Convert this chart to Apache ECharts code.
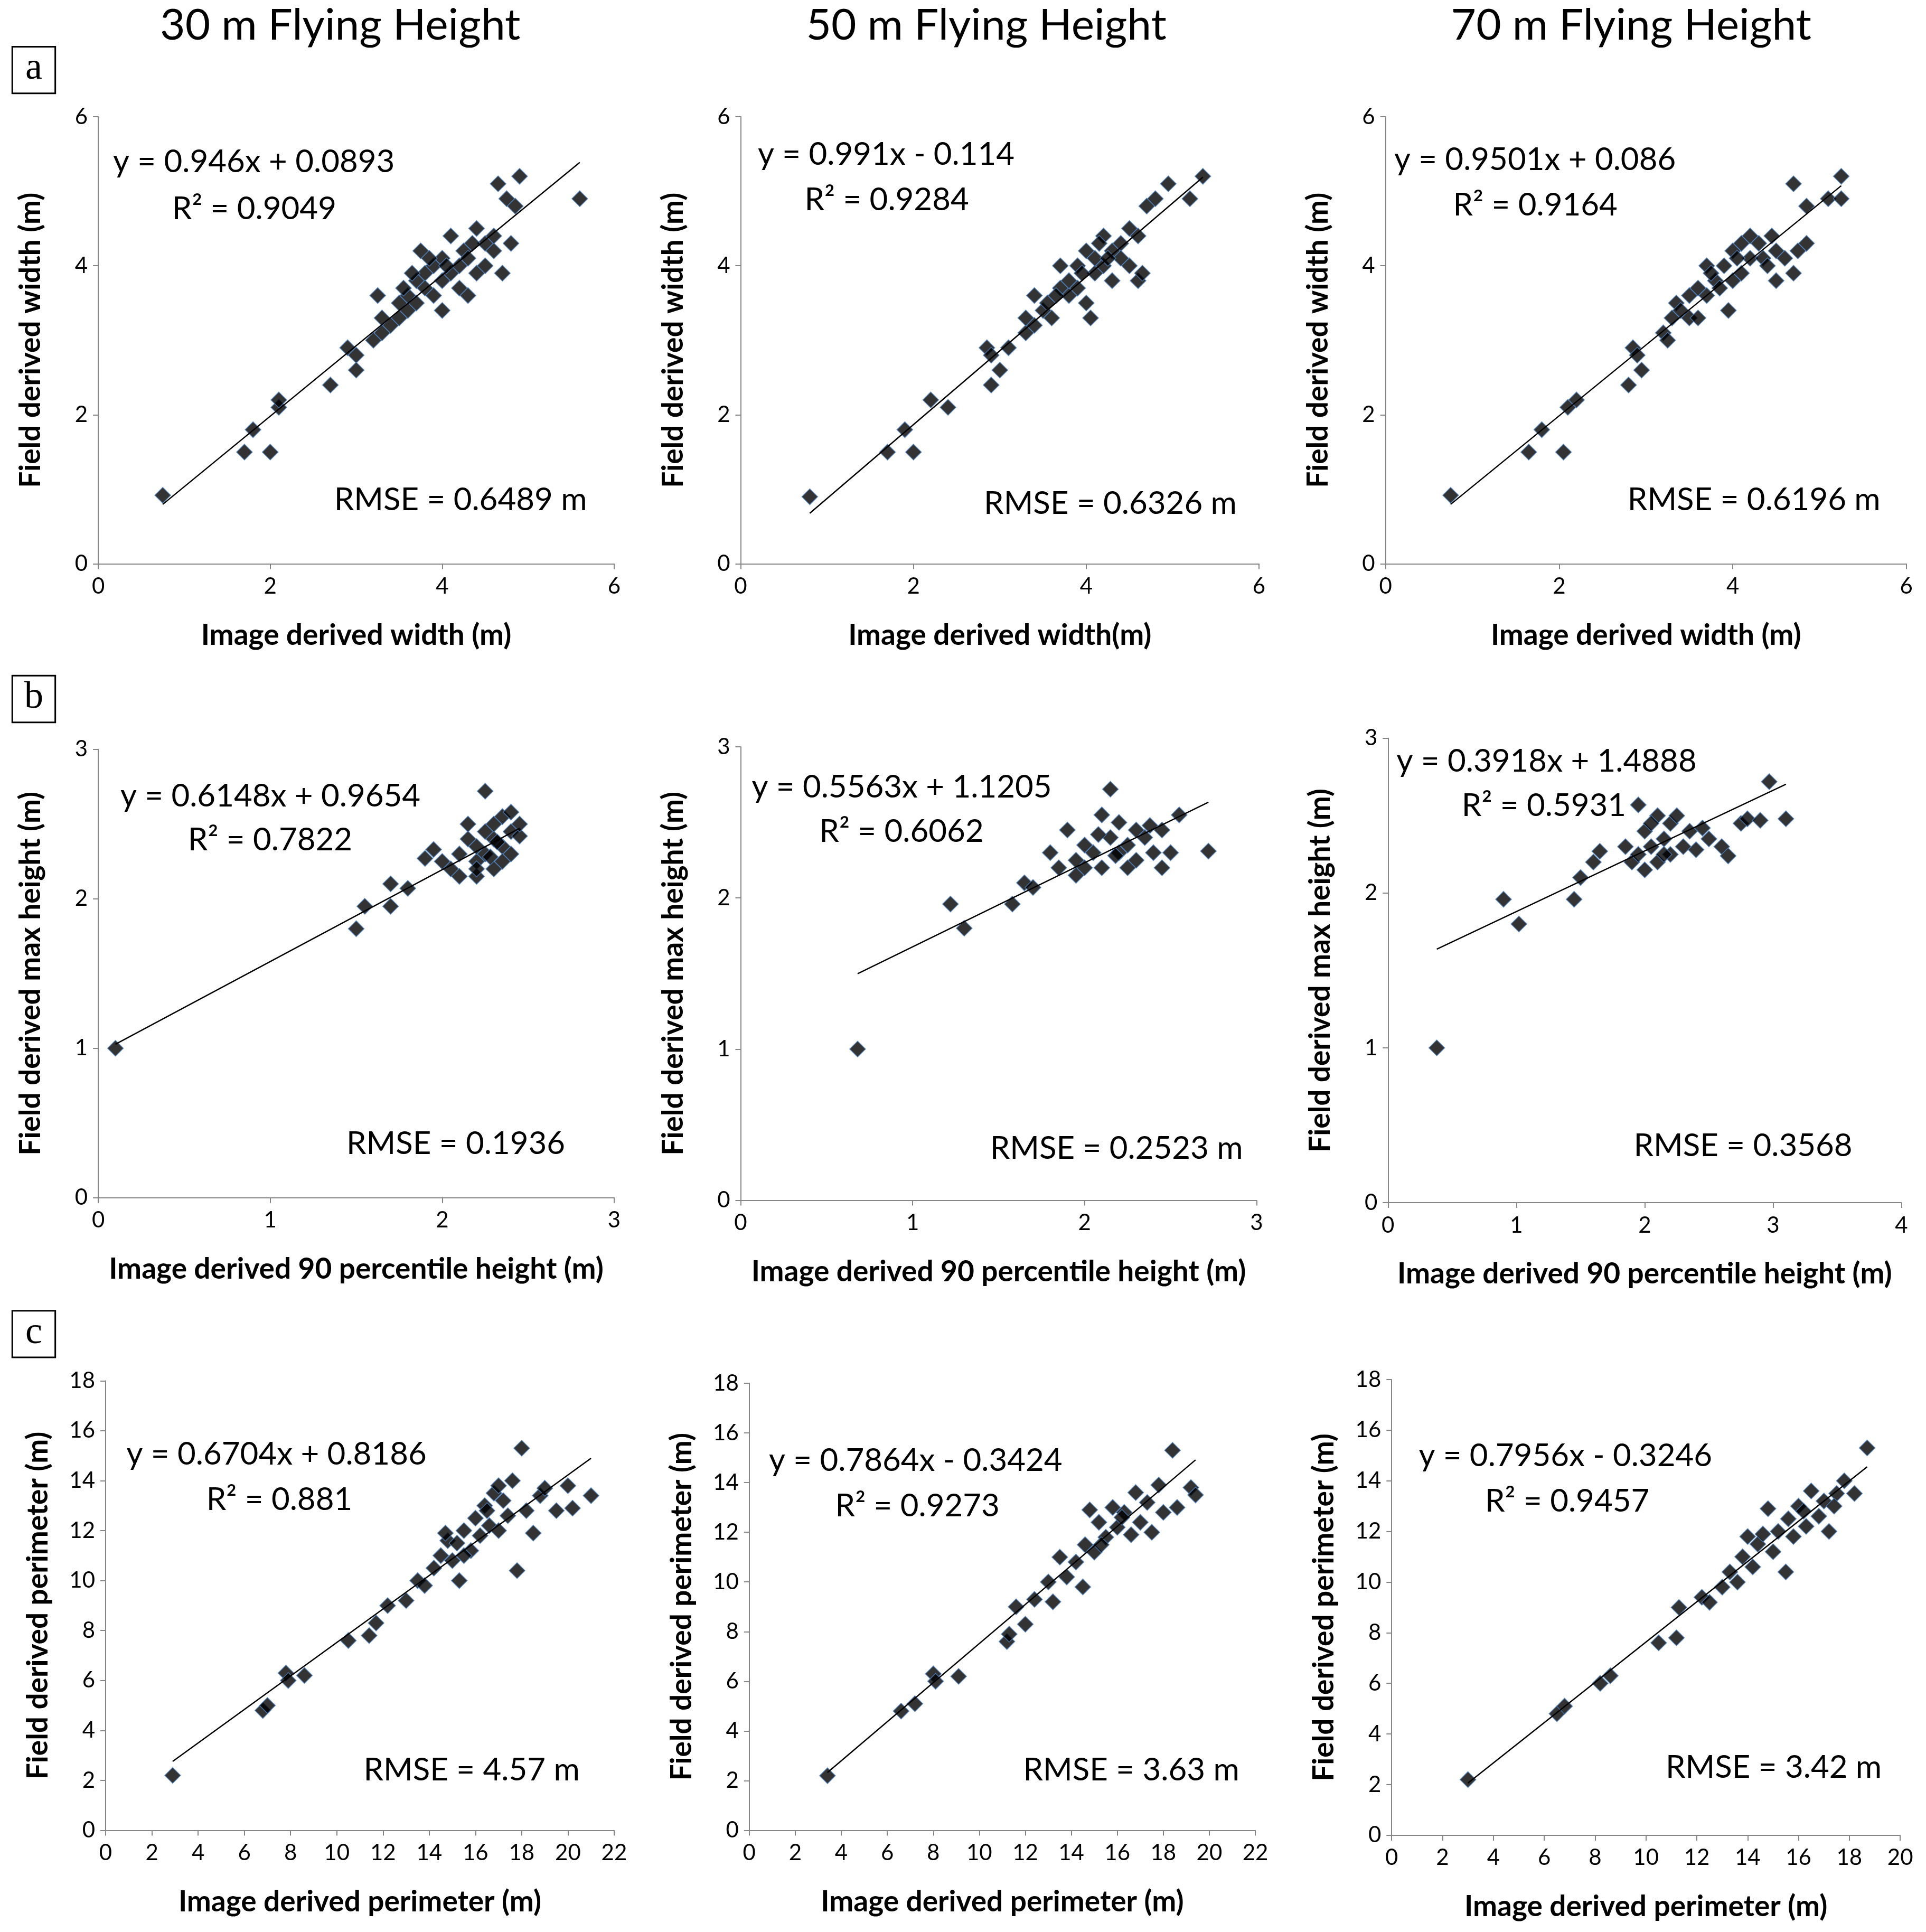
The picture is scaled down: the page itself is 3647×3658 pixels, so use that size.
<!DOCTYPE html>
<html><head><meta charset="utf-8">
<script src="https://cdn.jsdelivr.net/npm/echarts@6/dist/echarts.min.js"></script>
<style>html,body{margin:0;padding:0;background:#fff}#c{width:3647px;height:3658px}</style>
</head><body><div id="c"></div>
<script>
const colTitles = ["30 m Flying Height","50 m Flying Height","70 m Flying Height"];
const rowLetters = ["a","b","c"];
const xNames = ["Image derived width (m)","Image derived width(m)","Image derived width (m)",
"Image derived 90 percentile height (m)","Image derived 90 percentile height (m)","Image derived 90 percentile height (m)",
"Image derived perimeter (m)","Image derived perimeter (m)","Image derived perimeter (m)"];
const yNames = ["Field derived width (m)","Field derived width (m)","Field derived width (m)",
"Field derived max height (m)","Field derived max height (m)","Field derived max height (m)",
"Field derived perimeter (m)","Field derived perimeter (m)","Field derived perimeter (m)"];
const eqs = ["y = 0.946x + 0.0893","y = 0.991x - 0.114","y = 0.9501x + 0.086",
"y = 0.6148x + 0.9654","y = 0.5563x + 1.1205","y = 0.3918x + 1.4888",
"y = 0.6704x + 0.8186","y = 0.7864x - 0.3424","y = 0.7956x - 0.3246"];
const slopes = [0.946,0.991,0.9501,0.6148,0.5563,0.3918,0.6704,0.7864,0.7956];
const intercepts = [0.0893,-0.114,0.086,0.9654,1.1205,1.4888,0.8186,-0.3424,-0.3246];
const r2s = ["R² = 0.9049","R² = 0.9284","R² = 0.9164","R² = 0.7822","R² = 0.6062","R² = 0.5931","R² = 0.881","R² = 0.9273","R² = 0.9457"];
const rmses = ["RMSE = 0.6489 m","RMSE = 0.6326 m","RMSE = 0.6196 m","RMSE = 0.1936","RMSE = 0.2523 m","RMSE = 0.3568","RMSE = 4.57 m","RMSE = 3.63 m","RMSE = 3.42 m"];
const xMax = [6,6,6,3,3,4,22,22,20];
const yMax = [6,6,6,3,3,3,18,18,18];
const xInt = [2,2,2,1,1,1,2,2,2];
const yInt = [2,2,2,1,1,1,2,2,2];

const a1 = [[0.75,0.92],[1.7,1.5],[1.8,1.8],[2.0,1.5],[2.1,2.1],[2.1,2.2],[2.7,2.4],[2.9,2.9],[3.0,2.8],[3.0,2.6],[3.2,3.0],[3.25,3.6],[3.3,3.1],[3.3,3.3],[3.4,3.2],[3.5,3.3],[3.5,3.5],[3.6,3.6],[3.6,3.4],[3.7,3.8],[3.7,3.5],[3.75,4.2],[3.8,3.9],[3.8,3.7],[3.9,3.6],[3.9,4.0],[4.0,3.8],[4.0,4.1],[4.0,3.4],[4.1,4.4],[4.1,3.9],[4.2,3.7],[4.2,4.0],[4.25,4.2],[4.3,3.6],[4.3,4.1],[4.4,4.5],[4.4,3.9],[4.5,4.3],[4.5,4.0],[4.6,4.2],[4.6,4.4],[4.65,5.1],[4.7,3.9],[4.75,4.9],[4.8,4.3],[4.85,4.8],[4.9,5.2],[5.6,4.9],[3.55,3.7],[3.65,3.9],[4.05,4.0],[4.35,4.3],[3.85,4.1]];
const a2 = [[0.8,0.9],[1.7,1.5],[1.9,1.8],[2.0,1.5],[2.2,2.2],[2.4,2.1],[2.85,2.9],[2.9,2.8],[2.9,2.4],[3.0,2.6],[3.1,2.9],[3.3,3.1],[3.3,3.3],[3.4,3.6],[3.4,3.2],[3.5,3.4],[3.55,3.5],[3.6,3.3],[3.7,3.7],[3.7,4.0],[3.8,3.6],[3.8,3.8],[3.9,3.7],[3.9,4.0],[4.0,3.5],[4.0,4.2],[4.05,3.3],[4.1,3.9],[4.1,4.1],[4.2,4.4],[4.2,4.0],[4.3,4.2],[4.3,3.8],[4.4,4.3],[4.4,4.1],[4.5,4.0],[4.5,4.5],[4.6,3.8],[4.6,4.4],[4.65,3.9],[4.7,4.8],[4.8,4.9],[4.95,5.1],[5.2,4.9],[5.35,5.2],[3.65,3.6],[3.95,3.9],[4.25,4.1],[4.15,4.3]];
const a3 = [[0.75,0.92],[1.65,1.5],[1.8,1.8],[2.05,1.5],[2.1,2.1],[2.2,2.2],[2.8,2.4],[2.85,2.9],[2.9,2.8],[2.95,2.6],[3.2,3.1],[3.25,3.0],[3.3,3.3],[3.35,3.5],[3.4,3.4],[3.5,3.6],[3.5,3.3],[3.6,3.7],[3.6,3.3],[3.7,4.0],[3.7,3.6],[3.8,3.8],[3.85,3.7],[3.9,4.0],[3.95,3.4],[4.0,4.2],[4.0,3.8],[4.1,4.3],[4.1,3.9],[4.2,4.4],[4.2,4.1],[4.3,4.3],[4.35,4.1],[4.4,4.0],[4.45,4.4],[4.5,3.8],[4.5,4.2],[4.6,4.1],[4.7,3.9],[4.7,5.1],[4.75,4.2],[4.85,4.8],[4.85,4.3],[5.1,4.9],[5.25,4.9],[5.25,5.2],[3.75,3.9],[4.05,4.1]];
const b1 = [[0.1,1.0],[1.5,1.8],[1.55,1.95],[1.7,2.1],[1.7,1.95],[1.8,2.07],[1.9,2.27],[1.95,2.33],[2.0,2.25],[2.05,2.2],[2.1,2.3],[2.1,2.15],[2.15,2.4],[2.15,2.5],[2.2,2.25],[2.2,2.35],[2.2,2.15],[2.25,2.72],[2.25,2.45],[2.25,2.3],[2.3,2.4],[2.3,2.2],[2.3,2.5],[2.35,2.35],[2.35,2.25],[2.35,2.55],[2.4,2.45],[2.4,2.3],[2.4,2.58],[2.45,2.42],[2.45,2.5],[2.2,2.2],[2.28,2.28],[2.32,2.38]];
const b2 = [[0.68,1.0],[1.22,1.96],[1.3,1.8],[1.58,1.96],[1.65,2.1],[1.7,2.07],[1.8,2.3],[1.85,2.2],[1.9,2.45],[1.95,2.25],[1.95,2.15],[2.0,2.35],[2.0,2.2],[2.05,2.3],[2.1,2.55],[2.1,2.2],[2.15,2.72],[2.15,2.4],[2.2,2.3],[2.2,2.5],[2.25,2.35],[2.25,2.2],[2.3,2.45],[2.3,2.25],[2.35,2.4],[2.4,2.3],[2.45,2.45],[2.45,2.2],[2.5,2.3],[2.55,2.55],[2.72,2.31],[2.08,2.42],[2.18,2.28],[2.38,2.48]];
const b3 = [[0.38,1.0],[0.9,1.96],[1.02,1.8],[1.45,1.96],[1.5,2.1],[1.6,2.2],[1.65,2.27],[1.85,2.3],[1.9,2.2],[1.95,2.57],[1.95,2.25],[2.0,2.4],[2.0,2.15],[2.05,2.3],[2.1,2.5],[2.1,2.2],[2.15,2.35],[2.2,2.45],[2.2,2.25],[2.25,2.5],[2.3,2.3],[2.35,2.4],[2.4,2.28],[2.5,2.35],[2.6,2.3],[2.65,2.24],[2.75,2.45],[2.8,2.48],[2.9,2.47],[2.97,2.72],[3.1,2.48],[2.05,2.45],[2.15,2.25],[2.45,2.42]];
const c1 = [[2.9,2.2],[6.8,4.8],[7.0,5.0],[7.8,6.3],[7.9,6.0],[8.6,6.2],[10.5,7.6],[11.4,7.8],[11.7,8.3],[12.2,9.0],[13.0,9.2],[13.5,10.0],[13.8,9.8],[14.2,10.5],[14.5,11.0],[14.8,11.6],[15.0,10.8],[15.2,11.5],[15.3,10.0],[15.5,12.0],[15.8,11.2],[16.0,12.5],[16.2,11.8],[16.4,13.0],[16.6,12.2],[16.8,13.5],[17.0,12.0],[17.2,13.2],[17.4,12.6],[17.6,14.0],[17.8,10.4],[18.0,15.3],[18.2,12.8],[18.5,11.9],[18.8,13.4],[19.0,13.7],[19.5,12.8],[20.0,13.8],[20.2,12.9],[21.0,13.4],[16.5,12.8],[17.0,13.8],[14.7,11.9],[15.5,11.0]];
const c2 = [[3.4,2.2],[6.6,4.8],[7.2,5.1],[8.0,6.3],[8.1,6.0],[9.1,6.2],[11.2,7.6],[11.3,7.9],[11.6,9.0],[12.0,8.3],[12.4,9.3],[13.0,10.0],[13.2,9.2],[13.5,11.0],[13.8,10.2],[14.2,10.8],[14.5,9.8],[14.6,11.5],[14.8,12.9],[15.0,11.2],[15.2,12.4],[15.5,11.8],[15.8,13.0],[16.0,12.2],[16.3,12.8],[16.6,11.9],[16.8,13.6],[17.0,12.4],[17.3,13.2],[17.5,12.0],[17.8,13.9],[18.0,12.8],[18.4,15.3],[18.6,13.0],[19.2,13.8],[19.4,13.5],[15.3,11.5],[16.2,12.6]];
const c3 = [[3.0,2.2],[6.5,4.8],[6.8,5.1],[8.2,6.0],[8.6,6.3],[10.5,7.6],[11.2,7.8],[11.3,9.0],[12.2,9.4],[12.5,9.2],[13.0,9.8],[13.3,10.4],[13.6,10.0],[13.8,11.0],[14.0,11.8],[14.2,10.6],[14.4,11.5],[14.8,12.9],[15.0,11.2],[15.2,12.0],[15.5,10.4],[15.6,12.5],[15.8,11.8],[16.0,13.0],[16.3,12.2],[16.5,13.6],[16.8,12.6],[17.0,13.2],[17.2,12.0],[17.5,13.5],[17.8,14.0],[18.2,13.5],[18.7,15.3],[14.6,11.9],[16.2,12.8],[17.4,13.0]];
const allData = [a1,a2,a3,b1,b2,b3,c1,c2,c3];

const S = 3647/1568;
const FONT = "Lato, 'Open Sans', sans-serif";
const boxes = [[80,95,500,459],[603,95,1025,459],[1128,95,1552,459],
[80,610,500,975],[603,608,1023,977],[1130,601,1548,979],
[86,1124,500,1490],[610,1126,1022,1490],[1133,1123,1547,1494]];
const txtPos = [
[[92,132],[140,170],[272,407]],[[617,126],[655,163],[801,410]],[[1135,130],[1183,167],[1325,407]],
[[98,648],[153,684],[282,931]],[[612,641],[667,677],[806,935]],[[1137,620],[1190,656],[1330,933]],
[[103,1184],[168,1221],[296,1441]],[[626,1189],[680,1226],[833,1441]],[[1155,1185],[1209,1222],[1356,1439]]];
const titleX = [277,803,1328];
const letterY = [38,550,1067];

const grid=[],xAxis=[],yAxis=[],series=[],graphic=[];
for(let i=0;i<9;i++){
  const b=boxes[i];
  grid.push({left:b[0]*S,top:b[1]*S,width:(b[2]-b[0])*S,height:(b[3]-b[1])*S});
  const ax = (max,int,name,isY)=>({type:'value',gridIndex:i,min:0,max:max,interval:int,
    name:name,nameLocation:'middle',nameGap:isY?100:108,
    nameTextStyle:{fontFamily:FONT,fontWeight:'bold',fontSize:55,color:'#000'},
    axisLine:{show:true,lineStyle:{color:'#868686',width:2}},
    axisTick:{show:true,length:10,lineStyle:{color:'#868686',width:2}},
    axisLabel:{fontFamily:FONT,fontSize:42,color:'#000',margin:isY?20:22},
    splitLine:{show:false}});
  xAxis.push(ax(xMax[i],xInt[i],xNames[i],false));
  yAxis.push(ax(yMax[i],yInt[i],yNames[i],true));
  const d=allData[i];
  const xs=d.map(p=>p[0]);
  const x0=Math.min(...xs), x1=Math.max(...xs);
  series.push({type:'line',xAxisIndex:i,yAxisIndex:i,showSymbol:false,silent:true,
    data:[[x0,slopes[i]*x0+intercepts[i]],[x1,slopes[i]*x1+intercepts[i]]],
    lineStyle:{color:'#000',width:2.5},z:3});
  series.push({type:'scatter',xAxisIndex:i,yAxisIndex:i,symbol:'diamond',symbolSize:30,
    data:d,itemStyle:{color:'#000',borderColor:'#4f81bd',borderWidth:1.5},z:2});
  const t=[eqs[i],r2s[i],rmses[i]];
  for(let k=0;k<3;k++){
    graphic.push({type:'text',x:txtPos[i][k][0]*S,y:txtPos[i][k][1]*S,
      style:{text:t[k],font:`60px ${FONT}`,fill:'#000',verticalAlign:'middle'}});
  }
}
for(let j=0;j<3;j++){
  graphic.push({type:'text',x:titleX[j]*S,y:21*S,
    style:{text:colTitles[j],font:`82px ${FONT}`,fill:'#000',align:'center',verticalAlign:'middle'}});
  graphic.push({type:'rect',x:10*S,y:letterY[j]*S,shape:{width:35*S,height:38*S},
    style:{fill:'#fff',stroke:'#000',lineWidth:3}});
  graphic.push({type:'text',x:27.5*S,y:(letterY[j]+18)*S,
    style:{text:rowLetters[j],font:`72px 'Liberation Serif', serif`,fill:'#000',align:'center',verticalAlign:'middle'}});
}
const chart=echarts.init(document.getElementById('c'));
chart.setOption({animation:false,backgroundColor:'#fff',grid,xAxis,yAxis,series,graphic});
</script></body></html>
